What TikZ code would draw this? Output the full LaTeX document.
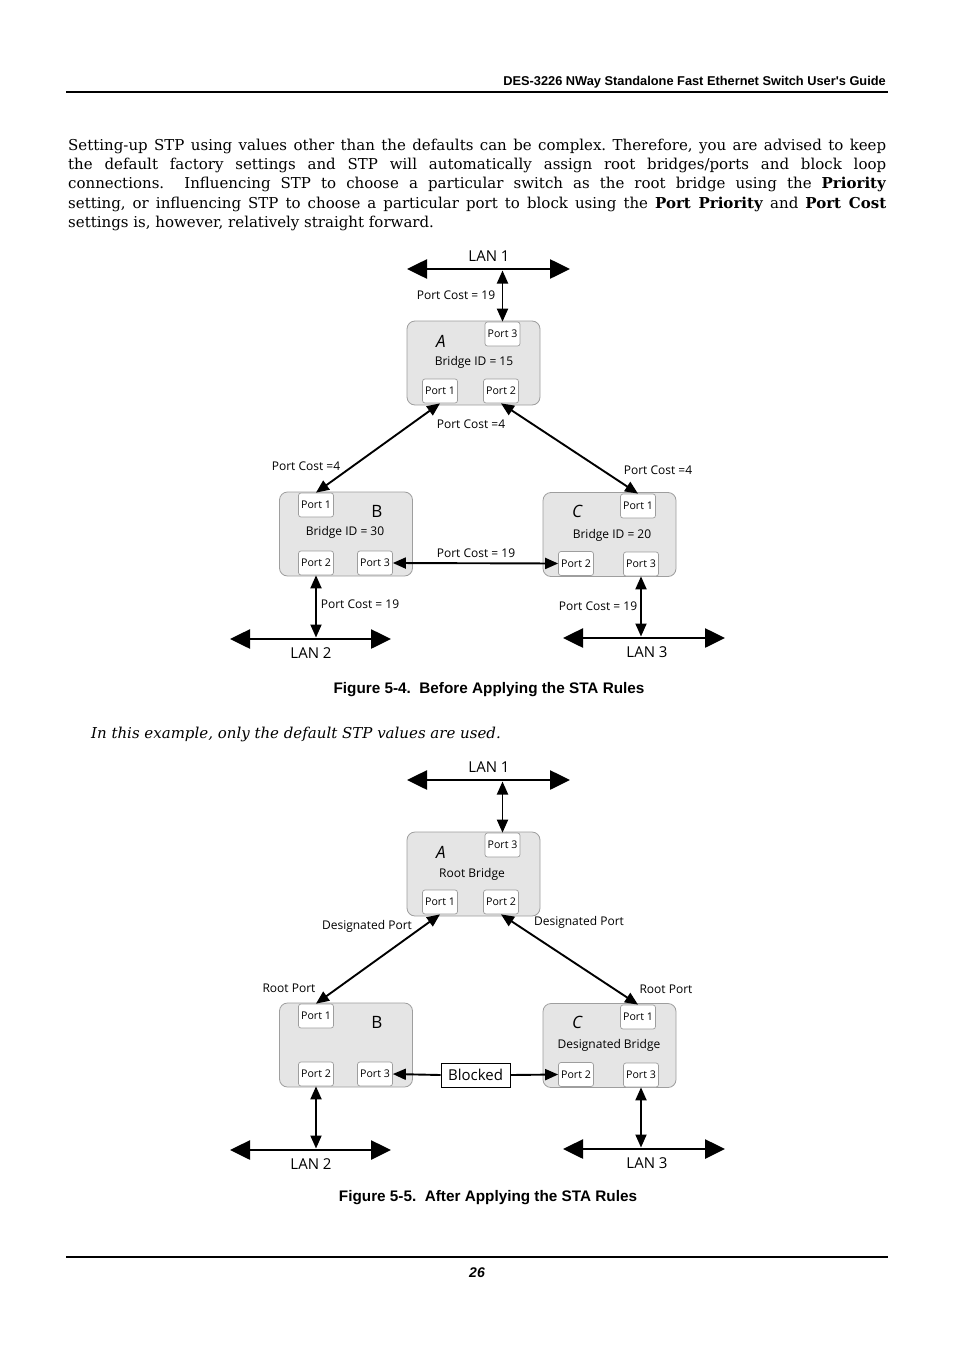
\documentclass[tikz,border=0pt]{standalone}
\usepackage{fontspec}
\setmainfont{DejaVu Serif}
\newfontfamily\hfont{Liberation Sans}
\newfontfamily\dfont{Open Sans}
\usetikzlibrary{arrows.meta}
\tikzset{
  bridge/.style={draw=black!38, line width=0.8pt, fill=black!10, rounded corners=8pt, minimum width=133pt, minimum height=84pt, inner sep=0pt},
  port/.style={draw=black!38, line width=0.7pt, fill=white, rounded corners=2.5pt, minimum width=35pt, minimum height=24pt, inner sep=0pt, font=\dfont\fontsize{10.6}{12}\selectfont},
  letter/.style={font=\dfont\itshape\fontsize{17}{19}\selectfont, inner sep=0pt},
  lbl/.style={font=\dfont\fontsize{12}{14}\selectfont, inner sep=0pt},
  lanlbl/.style={font=\dfont\fontsize{15}{16}\selectfont, inner sep=0pt},
  lan/.style={line width=2.6pt, {Triangle[length=20pt,width=19pt]}-{Triangle[length=20pt,width=19pt]}},
  link/.style={line width=1.9pt, {Triangle[length=13pt,width=11pt]}-{Triangle[length=13pt,width=11pt]}},
  onelink/.style={line width=1.9pt, -{Triangle[length=13pt,width=11pt]}},
  bodyline/.style={anchor=base west, inner sep=0pt, font=\frenchspacing\fontsize{15}{19}\selectfont},
  figcap/.style={anchor=base, inner sep=0pt, font=\hfont\bfseries\fontsize{15.3}{17}\selectfont},
  hrule/.style={line width=1.3pt}
}
\newcommand\stpbase{%
  \node[bridge] (A) at (473.5,363) {};
  \node[bridge] (B) at (346,534) {};
  \node[bridge] (C) at (609.5,534.5) {};
  \node[port] (a3) at (502.5,334) {Port 3};
  \node[port] (a1) at (440,391) {Port 1};
  \node[port] (a2) at (501,391) {Port 2};
  \node[port] (b1) at (316,505) {Port 1};
  \node[port] (b2) at (316,563) {Port 2};
  \node[port] (b3) at (375,563) {Port 3};
  \node[port] (c1) at (638,506) {Port 1};
  \node[port] (c2) at (576,563.5) {Port 2};
  \node[port] (c3) at (641,564) {Port 3};
  \node[letter] (la) at (441,341) {A};
  \node[letter,font=\dfont\fontsize{17}{19}\selectfont] (lb) at (377,511) {B};
  \node[letter] (lc) at (577,511) {C};
  \coordinate (l1w) at (407,269); \coordinate (l1e) at (570,269); \coordinate (l1c) at (502.5,270.5);
  \coordinate (l2w) at (230,639); \coordinate (l2e) at (391,639); \coordinate (l2c) at (316,637.5);
  \coordinate (l3w) at (563,638); \coordinate (l3e) at (725,638); \coordinate (l3c) at (641,636.5);
  \draw[lan] (l1w) -- (l1e);
  \draw[lan] (l2w) -- (l2e);
  \draw[lan] (l3w) -- (l3e);
  \draw[link] (l1c) -- (a3.north);
  \draw[link] (a1.south) -- (b1.north);
  \draw[link] (a2.south) -- (c1.north);
  \draw[link] (b2.south) -- (l2c);
  \draw[link] (c3.south) -- (l3c);
  \node[lanlbl] (t1) at (489,256) {LAN 1};
  \node[lanlbl] (t2) at (311,653) {LAN 2};
  \node[lanlbl] (t3) at (647,652) {LAN 3};
}
\begin{document}
\begin{tikzpicture}[x=1pt,y=-1pt]
\useasboundingbox[fill=white] (0,0) rectangle (954,1351);
% header
\node[anchor=base east, inner sep=0pt, font=\hfont\bfseries\fontsize{12.8}{14}\selectfont] (hdr) at (886,86) {DES-3226 NWay Standalone Fast Ethernet Switch User's Guide};
\coordinate (hr1) at (66,92); \coordinate (hr2) at (888,92);
\draw[hrule] (hr1) -- (hr2);
% paragraph
\node[bodyline] (p1) at (68,151) {\makebox[818pt][s]{Setting-up STP using values other than the defaults can be complex. Therefore, you are advised to keep}};
\node[bodyline] (p2) at (68,170) {\makebox[818pt][s]{the default factory settings and STP will automatically assign root bridges/ports and block loop}};
\node[bodyline] (p3) at (68,189) {\makebox[818pt][s]{connections.\ \ Influencing STP to choose a particular switch as the root bridge using the \textbf{Priority}}};
\node[bodyline] (p4) at (68,208) {\makebox[818pt][s]{setting, or influencing STP to choose a particular port to block using the \textbf{Port Priority} and \textbf{Port Cost}}};
\node[bodyline] (p5) at (68,227) {settings is, however, relatively straight forward.};
% figure 1
\begin{scope}
  \stpbase
  \node[lbl] at (474,362) (ida) {Bridge ID = 15};
  \node[lbl] at (345,532) (idb) {Bridge ID = 30};
  \node[lbl] at (612,535) (idc) {Bridge ID = 20};
  \draw[link] (b3.east) -- (c2.west);
  \node[lbl] (pc1) at (456,295) {Port Cost = 19};
  \node[lbl] (pc2) at (471,424) {Port Cost =4};
  \node[lbl] (pc3) at (306,466) {Port Cost =4};
  \node[lbl] (pc4) at (658,470) {Port Cost =4};
  \node[lbl] (pc5) at (476,553) {Port Cost = 19};
  \node[lbl] (pc6) at (360,604) {Port Cost = 19};
  \node[lbl] (pc7) at (598,606) {Port Cost = 19};
\end{scope}
\node[figcap] (cap1) at (489,693) {Figure 5-4.\ \ Before Applying the STA Rules};
\node[anchor=base west, inner sep=0pt, font=\frenchspacing\itshape\fontsize{15}{19}\selectfont] (ex) at (91,738) {In this example, only the default STP values are used.};
% figure 2
\begin{scope}[yshift=-511pt, name prefix=g-]
  \stpbase
  \node[lbl] (rb) at (472,363) {Root Bridge};
  \node[lbl] (db) at (609,534) {Designated Bridge};
  \node[lbl] (dp1) at (367,415) {Designated Port};
  \node[lbl] (dp2) at (579,411) {Designated Port};
  \node[lbl] (rp1) at (289,477) {Root Port};
  \node[lbl] (rp2) at (666,478) {Root Port};
  \node[draw, line width=0.9pt, fill=white, minimum width=69pt, minimum height=24pt, inner sep=0pt, font=\dfont\fontsize{15}{16}\selectfont] (blk) at (475.5,564) {Blocked};
  \draw[onelink] (blk.west) -- (b3.east);
  \draw[onelink] (blk.east) -- (c2.west);
\end{scope}
\node[figcap] (cap2) at (488,1201) {Figure 5-5.\ \ After Applying the STA Rules};
% footer
\coordinate (fr1) at (66,1257); \coordinate (fr2) at (888,1257);
\draw[line width=2pt] (fr1) -- (fr2);
\node[anchor=base, inner sep=0pt, font=\hfont\bfseries\itshape\fontsize{14}{16}\selectfont] (pg) at (477,1277) {26};
\end{tikzpicture}
\end{document}
